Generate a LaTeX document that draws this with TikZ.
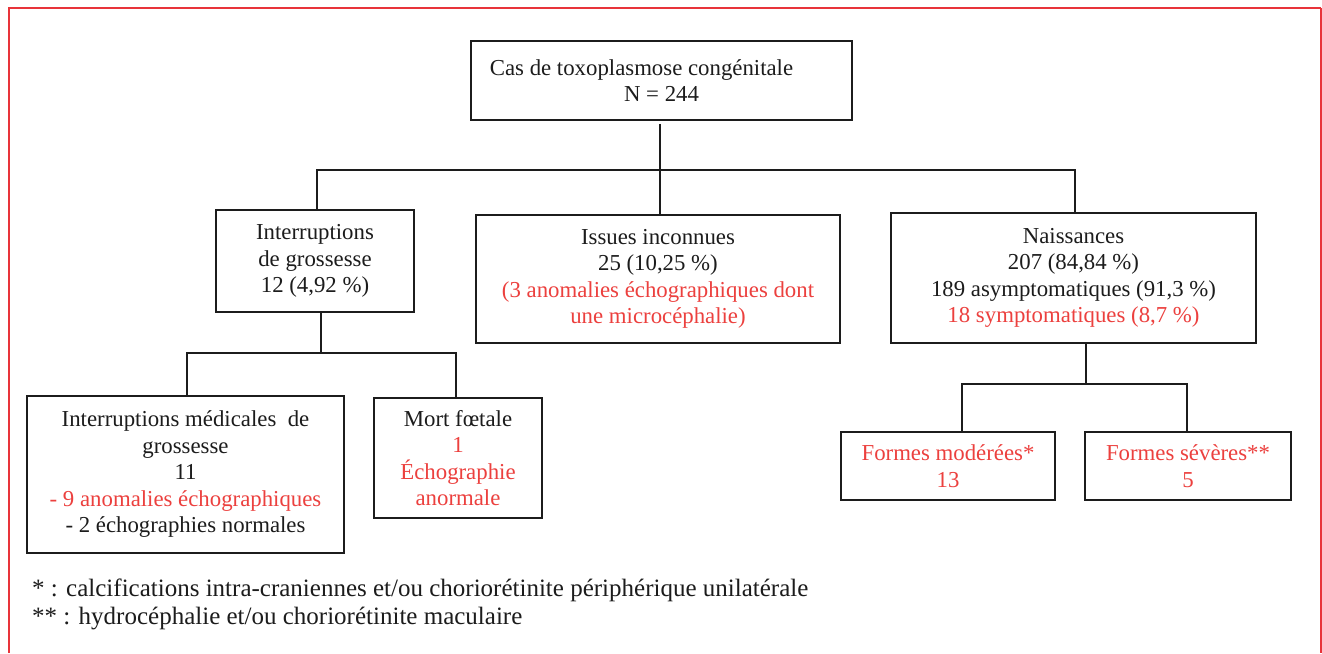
\documentclass[tikz,border=0pt]{standalone}
\usepackage{fontspec}
\setmainfont{Liberation Serif}
\definecolor{bordred}{RGB}{232,52,58}
\definecolor{txtred}{RGB}{236,64,62}
\definecolor{ink}{RGB}{28,28,28}
\begin{document}
\begin{tikzpicture}[x=1pt,y=1pt,
  box/.style={draw=ink, line width=1.7pt, rectangle, inner sep=0pt, align=center,
    text=ink, font=\fontsize{22.8}{26.5}\selectfont},
  conn/.style={draw=ink, line width=1.7pt},
  foot/.style={anchor=west, inner sep=0pt, text=ink, font=\fontsize{25}{28}\selectfont}]
\useasboundingbox (0,0) rectangle (1322,-653);
\fill[white] (0,0) rectangle (1322,-653);
% red frame
\draw[bordred, line width=2.6pt] (9,-653) -- (9,-8) -- (1321,-8);
\draw[bordred, line width=1.2pt] (1321,-8) -- (1321,-653);
% boxes
\node[box, minimum width=381pt, minimum height=79pt] (top) at (661.5,-80.5)
  {Cas de toxoplasmose congénitale\hspace*{40pt}\\N = 244};
\node[box, minimum width=198pt, minimum height=102pt] (interr) at (315,-261)
  {Interruptions\\de grossesse\\12 (4,92 \%)};
\node[box, minimum width=364pt, minimum height=128pt] (issues) at (658,-279)
  {Issues inconnues\\25 (10,25 \%)\\\textcolor{txtred}{(3 anomalies échographiques dont}\\\textcolor{txtred}{une microcéphalie)}};
\node[box, minimum width=365pt, minimum height=130pt] (naiss) at (1073.5,-278)
  {Naissances\\207 (84,84 \%)\\189 asymptomatiques (91,3 \%)\\\textcolor{txtred}{18 symptomatiques (8,7 \%)}};
\node[box, minimum width=317pt, minimum height=157pt] (img) at (185.5,-474.5)
  {Interruptions médicales\ \ de\\grossesse\\11\\\textcolor{txtred}{- 9 anomalies échographiques}\\- 2 échographies normales};
\node[box, minimum width=168pt, minimum height=120pt] (mort) at (458,-458)
  {Mort fœtale\\\textcolor{txtred}{1}\\\textcolor{txtred}{Échographie}\\\textcolor{txtred}{anormale}};
\node[box, minimum width=214pt, minimum height=68pt] (mod) at (948,-466)
  {\textcolor{txtred}{Formes modérées*}\\\textcolor{txtred}{13}};
\node[box, minimum width=206pt, minimum height=68pt] (sev) at (1188,-466)
  {\textcolor{txtred}{Formes sévères**}\\\textcolor{txtred}{5}};
% connector junctions
\coordinate (b1) at (660,-170);
\coordinate (b1L) at (317,-170);
\coordinate (b1R) at (1075,-170);
\coordinate (b2) at (321,-353);
\coordinate (b2L) at (187,-353);
\coordinate (b2R) at (456,-353);
\coordinate (b3) at (1086,-384);
\coordinate (b3L) at (962,-384);
\coordinate (b3R) at (1187,-384);
% connectors
\draw[conn] ([yshift=-3pt]b1 |- top.south) -- (b1) -- (b1 |- issues.north);
\draw[conn] (b1L |- interr.north) -- (b1L) -- (b1R) -- (b1R |- naiss.north);
\draw[conn] (b2 |- interr.south) -- (b2);
\draw[conn] (b2L |- img.north) -- (b2L) -- (b2R) -- (b2R |- mort.north);
\draw[conn] (b3 |- naiss.south) -- (b3);
\draw[conn] (b3L |- mod.north) -- (b3L) -- (b3R) -- (b3R |- sev.north);
% footnotes
\node[foot] (f1) at (32,-590) {* : calcifications intra-craniennes et/ou choriorétinite périphérique unilatérale};
\node[foot] (f2) at (32,-618) {** : hydrocéphalie et/ou choriorétinite maculaire};
\end{tikzpicture}
\end{document}
